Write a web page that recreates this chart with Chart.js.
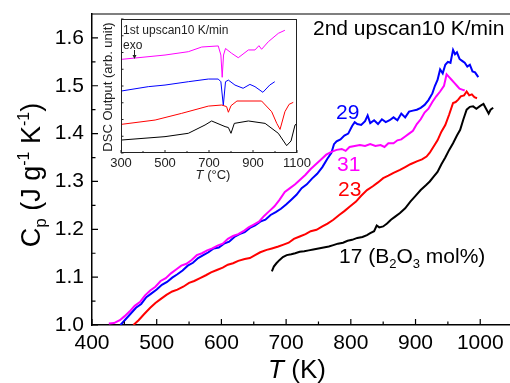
<!DOCTYPE html>
<html>
<head>
<meta charset="utf-8">
<script src="https://cdn.jsdelivr.net/npm/chart.js@4.4.1/dist/chart.umd.min.js"></script>
<style>
html, body { margin: 0; padding: 0; background: #fff; }
#wrap { position: relative; width: 510px; height: 383px; }
#main { position: absolute; left: 0; top: 0; }
#inset { position: absolute; left: 100px; top: 10px; }
</style>
</head>
<body>
<div id="wrap">
  <canvas id="main" width="510" height="383"></canvas>
  <canvas id="inset" width="215" height="180"></canvas>
</div>
<script>
const FONT = '"Liberation Sans", Arial, sans-serif';

const xTicks = [400, 500, 600, 700, 800, 900, 1000];
const yTicks = [1.0, 1.1, 1.2, 1.3, 1.4, 1.5, 1.6];
const insetXTicks = [300, 500, 700, 900, 1100];

// 2nd upscan, Cp vs T (K), one pair of arrays per composition (B2O3 mol%)
const t17 = [678, 681, 685, 690, 695, 701, 708, 714, 721, 728, 735, 742, 750, 758, 766, 773, 780, 788, 795, 802, 810, 818, 825, 830, 836, 840, 844, 850, 856, 862, 868, 876, 884, 892, 900, 908, 916, 922, 928, 934, 940, 946, 952, 958, 964, 969, 974, 979, 984, 989, 994, 1000, 1005, 1009, 1013, 1016, 1020];
const cp17 = [1.112, 1.122, 1.129, 1.136, 1.142, 1.146, 1.148, 1.150, 1.153, 1.154, 1.156, 1.158, 1.160, 1.162, 1.164, 1.167, 1.170, 1.172, 1.176, 1.178, 1.182, 1.184, 1.188, 1.192, 1.196, 1.208, 1.204, 1.206, 1.212, 1.220, 1.226, 1.234, 1.244, 1.258, 1.270, 1.282, 1.292, 1.300, 1.310, 1.320, 1.336, 1.350, 1.366, 1.380, 1.396, 1.408, 1.430, 1.450, 1.456, 1.457, 1.452, 1.458, 1.462, 1.452, 1.442, 1.450, 1.454];

const t23 = [464, 472, 480, 490, 498, 506, 515, 524, 532, 541, 550, 558, 567, 576, 584, 593, 602, 610, 618, 626, 636, 644, 652, 660, 670, 678, 688, 696, 704, 712, 721, 730, 738, 747, 756, 764, 773, 782, 790, 799, 808, 816, 825, 834, 842, 850, 858, 866, 876, 884, 892, 902, 910, 917, 922, 928, 934, 940, 946, 952, 958, 962, 966, 970, 975, 979, 983, 987, 991, 995];
const cp23 = [1.000, 1.010, 1.022, 1.036, 1.046, 1.054, 1.063, 1.070, 1.074, 1.080, 1.088, 1.092, 1.098, 1.104, 1.110, 1.115, 1.120, 1.126, 1.129, 1.134, 1.138, 1.140, 1.146, 1.152, 1.157, 1.160, 1.164, 1.168, 1.172, 1.180, 1.185, 1.190, 1.196, 1.199, 1.206, 1.212, 1.220, 1.230, 1.238, 1.248, 1.258, 1.270, 1.282, 1.290, 1.298, 1.307, 1.312, 1.318, 1.324, 1.330, 1.336, 1.342, 1.346, 1.352, 1.360, 1.373, 1.386, 1.404, 1.418, 1.440, 1.464, 1.466, 1.471, 1.478, 1.480, 1.488, 1.480, 1.482, 1.476, 1.474];

const t31 = [426, 434, 443, 450, 458, 466, 474, 482, 490, 498, 506, 514, 522, 530, 538, 546, 554, 562, 570, 578, 586, 594, 602, 610, 618, 626, 634, 642, 650, 658, 666, 674, 682, 690, 698, 706, 714, 722, 730, 738, 746, 754, 762, 770, 778, 786, 792, 798, 806, 814, 822, 830, 838, 846, 852, 858, 866, 872, 878, 884, 890, 896, 902, 908, 914, 920, 926, 932, 938, 944, 948, 952, 956, 960, 964, 968, 972, 976];
const cp31 = [1.003, 1.004, 1.010, 1.018, 1.028, 1.040, 1.048, 1.062, 1.072, 1.080, 1.092, 1.098, 1.108, 1.116, 1.124, 1.128, 1.136, 1.146, 1.150, 1.156, 1.160, 1.166, 1.170, 1.180, 1.186, 1.190, 1.196, 1.204, 1.210, 1.216, 1.228, 1.238, 1.248, 1.262, 1.278, 1.286, 1.294, 1.304, 1.314, 1.326, 1.336, 1.346, 1.356, 1.362, 1.366, 1.368, 1.364, 1.372, 1.374, 1.376, 1.374, 1.378, 1.374, 1.376, 1.372, 1.380, 1.380, 1.386, 1.388, 1.394, 1.400, 1.406, 1.420, 1.430, 1.444, 1.452, 1.466, 1.478, 1.488, 1.500, 1.524, 1.518, 1.512, 1.506, 1.500, 1.494, 1.492, 1.490];

const t29 = [444, 452, 460, 468, 476, 484, 492, 500, 508, 516, 524, 532, 540, 548, 556, 564, 572, 580, 588, 596, 604, 612, 620, 628, 636, 644, 652, 660, 668, 676, 684, 692, 700, 708, 716, 724, 732, 740, 748, 756, 764, 770, 774, 778, 784, 790, 796, 802, 806, 810, 816, 822, 826, 830, 836, 842, 848, 854, 860, 866, 872, 878, 884, 890, 896, 902, 908, 914, 920, 926, 930, 934, 938, 942, 946, 950, 954, 958, 961, 964, 968, 972, 976, 980, 984, 988, 992, 997];
const cp29 = [1.000, 1.012, 1.024, 1.036, 1.044, 1.058, 1.066, 1.074, 1.084, 1.090, 1.099, 1.106, 1.114, 1.124, 1.130, 1.140, 1.146, 1.152, 1.160, 1.162, 1.170, 1.174, 1.184, 1.190, 1.194, 1.203, 1.208, 1.216, 1.220, 1.230, 1.236, 1.243, 1.252, 1.262, 1.272, 1.286, 1.294, 1.306, 1.316, 1.330, 1.348, 1.360, 1.378, 1.384, 1.388, 1.396, 1.400, 1.416, 1.424, 1.420, 1.418, 1.426, 1.438, 1.422, 1.428, 1.420, 1.430, 1.424, 1.428, 1.434, 1.428, 1.442, 1.434, 1.446, 1.448, 1.450, 1.454, 1.460, 1.470, 1.484, 1.500, 1.512, 1.534, 1.526, 1.544, 1.550, 1.548, 1.575, 1.566, 1.570, 1.556, 1.552, 1.548, 1.540, 1.544, 1.530, 1.528, 1.518];

// inset: 1st upscan DSC output (arb. unit) vs T (°C)
const tcPink = [303, 500, 606, 667, 742, 754, 760, 766, 775, 803, 833, 879, 909, 927, 939, 970, 1015, 1045];
const dscPink = [69.9, 73.1, 75.6, 79.1, 79.9, 73.1, 56.5, 73.1, 78.0, 74.4, 71.1, 76.9, 76.9, 80.1, 77.4, 83.1, 89.3, 91.6];
const tcBlue = [303, 424, 500, 606, 697, 742, 754, 765, 775, 788, 818, 855, 886, 909, 945, 976, 999];
const dscBlue = [46.3, 49.5, 50.7, 53.2, 55.2, 55.2, 53.2, 35.5, 53.2, 54.4, 50.7, 48.3, 51.2, 49.5, 45.3, 50.7, 53.2];
const tcRed = [303, 455, 576, 697, 758, 780, 788, 800, 827, 939, 985, 1008, 1023, 1045, 1064, 1083];
const dscRed = [21.4, 24.6, 29.6, 35.0, 35.8, 34.6, 30.4, 35.3, 38.8, 38.8, 30.8, 22.1, 17.6, 30.8, 36.3, 37.8];
const tcBlack = [303, 500, 606, 682, 712, 773, 788, 800, 815, 879, 955, 1015, 1053, 1073, 1091, 1100];
const dscBlack = [9.7, 12.2, 14.7, 20.9, 23.9, 19.7, 19.0, 14.7, 22.1, 23.9, 22.1, 14.7, 5.5, 9.0, 20.9, 22.0];

function pts(xs, ys) { return xs.map((x, i) => ({ x: x, y: ys[i] })); }
function series(xs, ys, color, w) {
  return { data: pts(xs, ys), borderColor: color, borderWidth: w, pointRadius: 0, tension: 0, fill: false };
}
function fixedTicks(vals) {
  return s => { s.ticks = vals.map(v => ({ value: v })); };
}

// draw a run of text pieces (size, italic, vertical shift) starting at x
function rich(ctx, parts, x, y, align) {
  let total = 0;
  parts.forEach(p => {
    ctx.font = (p.it ? 'italic ' : '') + p.s + 'px ' + FONT;
    p.w = ctx.measureText(p.t).width;
    total += p.w;
  });
  let cx = align === 'center' ? x - total / 2 : x;
  ctx.textAlign = 'left';
  ctx.textBaseline = 'alphabetic';
  parts.forEach(p => {
    ctx.font = (p.it ? 'italic ' : '') + p.s + 'px ' + FONT;
    ctx.fillText(p.t, cx, y + (p.dy || 0));
    cx += p.w;
  });
}

const mainDecor = {
  id: 'mainDecor',
  afterDraw(chart) {
    const ctx = chart.ctx, a = chart.chartArea;
    const xs = chart.scales.x, ys = chart.scales.y;
    ctx.save();
    ctx.strokeStyle = '#000';
    ctx.lineWidth = 1.2;
    ctx.beginPath();
    ctx.moveTo(a.left, a.top); ctx.lineTo(a.right, a.top);
    for (let v = 400; v <= 1046; v += 50) {
      const px = xs.getPixelForValue(v);
      const len = v % 100 === 0 ? 6 : 3.5;
      ctx.moveTo(px, a.bottom); ctx.lineTo(px, a.bottom - len);
    }
    for (let k = 0; k <= 13; k++) {
      const py = ys.getPixelForValue(1 + k * 0.05);
      const len = k % 2 === 0 ? 6 : 3.5;
      ctx.moveTo(a.left, py); ctx.lineTo(a.left + len, py);
    }
    ctx.stroke();

    ctx.fillStyle = '#000';
    rich(ctx, [{ t: '2nd upscan10 K/min', s: 21 }], 313, 35, 'left');
    ctx.fillStyle = '#0000ff';
    rich(ctx, [{ t: '29', s: 21 }], 336, 119, 'left');
    ctx.fillStyle = '#ff00ff';
    rich(ctx, [{ t: '31', s: 21 }], 337, 171, 'left');
    ctx.fillStyle = '#ff0000';
    rich(ctx, [{ t: '23', s: 21 }], 338, 196, 'left');
    ctx.fillStyle = '#000';
    rich(ctx, [{ t: '17 (B', s: 21 }, { t: '2', s: 13, dy: 5 }, { t: 'O', s: 21 },
               { t: '3', s: 13, dy: 5 }, { t: ' mol%)', s: 21 }], 339, 263, 'left');

    rich(ctx, [{ t: 'T', s: 26, it: true }, { t: ' (K)', s: 26 }], 297, 378, 'center');

    ctx.translate(40, 175);
    ctx.rotate(-Math.PI / 2);
    rich(ctx, [{ t: 'C', s: 27 }, { t: 'p', s: 17, dy: 6 }, { t: ' (J g', s: 27 },
               { t: '-1', s: 16, dy: -11 }, { t: ' K', s: 27 }, { t: '-1', s: 16, dy: -11 },
               { t: ')', s: 27 }], 0, 0, 'center');
    ctx.restore();
  }
};

new Chart(document.getElementById('main'), {
  type: 'line',
  data: {
    datasets: [
      series(t17, cp17, '#000000', 2),
      series(t23, cp23, '#ff0000', 2),
      series(t31, cp31, '#ff00ff', 2),
      series(t29, cp29, '#0000ff', 2)
    ]
  },
  options: {
    responsive: false,
    animation: false,
    layout: { padding: { top: 14, left: 0, right: 0, bottom: 0 } },
    plugins: { legend: { display: false }, tooltip: { enabled: false } },
    scales: {
      x: {
        type: 'linear', min: 400, max: 1046,
        grid: { display: false, drawTicks: false },
        border: { display: true, color: '#000', width: 1.5 },
        ticks: {
          autoSkip: false, maxRotation: 0, padding: 6, color: '#000',
          font: { family: FONT, size: 21 },
          callback: v => String(v)
        },
        afterBuildTicks: fixedTicks(xTicks),
        afterFit: s => { s.height = 58; s.paddingLeft = 0; s.paddingRight = 0; }
      },
      y: {
        type: 'linear', min: 1.0, max: 1.65,
        grid: { display: false, drawTicks: false },
        border: { display: true, color: '#000', width: 1.5 },
        ticks: {
          autoSkip: false, padding: 8, color: '#000',
          font: { family: FONT, size: 21 },
          callback: v => v.toFixed(1)
        },
        afterBuildTicks: fixedTicks(yTicks),
        afterFit: s => { s.width = 92; s.paddingTop = 0; s.paddingBottom = 0; }
      }
    }
  },
  plugins: [mainDecor]
});

const insetDecor = {
  id: 'insetDecor',
  afterDraw(chart) {
    const ctx = chart.ctx, a = chart.chartArea;
    const xs = chart.scales.x, ys = chart.scales.y;
    ctx.save();
    ctx.strokeStyle = '#222';
    ctx.lineWidth = 1;
    ctx.strokeRect(a.left + 0.5, a.top + 0.5, a.right - a.left - 1, a.bottom - a.top - 1);
    ctx.beginPath();
    for (let v = 300; v <= 1100; v += 100) {
      const px = xs.getPixelForValue(v);
      const len = v % 200 === 100 ? 3 : 2;
      ctx.moveTo(px, a.bottom); ctx.lineTo(px, a.bottom - len);
    }
    for (let v = 0; v <= 100; v += 12.5) {
      const py = ys.getPixelForValue(v);
      ctx.moveTo(a.left, py); ctx.lineTo(a.left + 2.5, py);
    }
    // exo arrow
    ctx.moveTo(34.5, 40); ctx.lineTo(34.5, 48);
    ctx.stroke();
    ctx.fillStyle = '#222';
    ctx.beginPath();
    ctx.moveTo(32.5, 45); ctx.lineTo(36.5, 45); ctx.lineTo(34.5, 49); ctx.closePath();
    ctx.fill();

    rich(ctx, [{ t: '1st upscan10 K/min', s: 12 }], 23, 24, 'left');
    rich(ctx, [{ t: 'exo', s: 12 }], 23, 39, 'left');
    rich(ctx, [{ t: 'T', s: 13, it: true }, { t: ' (°C)', s: 13 }], 113, 169, 'center');

    ctx.translate(12, 77);
    ctx.rotate(-Math.PI / 2);
    rich(ctx, [{ t: 'DSC Output (arb. unit)', s: 13 }], 0, 0, 'center');
    ctx.restore();
  }
};

new Chart(document.getElementById('inset'), {
  type: 'line',
  data: {
    datasets: [
      series(tcBlack, dscBlack, '#000000', 1),
      series(tcRed, dscRed, '#ff0000', 1),
      series(tcBlue, dscBlue, '#0000ff', 1),
      series(tcPink, dscPink, '#ff00ff', 1)
    ]
  },
  options: {
    responsive: false,
    animation: false,
    layout: { padding: { top: 9, left: 21, right: 18, bottom: 0 } },
    plugins: { legend: { display: false }, tooltip: { enabled: false } },
    scales: {
      x: {
        type: 'linear', min: 300, max: 1100,
        grid: { display: false, drawTicks: false },
        border: { display: false },
        ticks: {
          autoSkip: false, maxRotation: 0, padding: 3, color: '#222',
          font: { family: FONT, size: 13 },
          callback: v => String(v)
        },
        afterBuildTicks: fixedTicks(insetXTicks),
        afterFit: s => { s.height = 37; s.paddingLeft = 0; s.paddingRight = 0; }
      },
      y: { type: 'linear', min: 0, max: 100, display: false }
    }
  },
  plugins: [insetDecor]
});
</script>
</body>
</html>
